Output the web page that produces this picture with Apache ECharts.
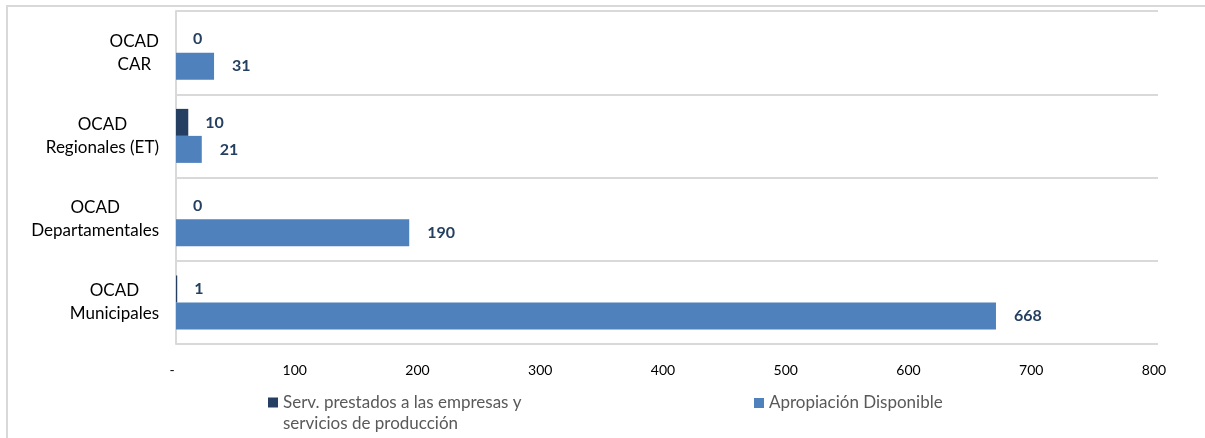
<!DOCTYPE html>
<html>
<head>
<meta charset="utf-8">
<script src="https://cdn.jsdelivr.net/npm/echarts@6/dist/echarts.min.js"></script>
<style>
  html, body { margin: 0; padding: 0; background: #ffffff; }
  #chart { width: 1205px; height: 438px; }
</style>
</head>
<body>
<div id="chart"></div>
<script>
// Categories (bottom to top, as on the category axis)
const categories = ['OCAD\nMunicipales', 'OCAD\nDepartamentales', 'OCAD\nRegionales (ET)', 'OCAD\nCAR'];
// Series names
const servName = 'Serv. prestados a las empresas y servicios de producción';
const apropName = 'Apropiación Disponible';
// Series values
const servValues = [1, 0, 10, 0];
const apropValues = [668, 190, 21, 31];
// Value axis ticks
const xMin = 0;
const xMax = 800;
const xInterval = 100;

const FONT = 'Lato, "Noto Sans", sans-serif';
const chart = echarts.init(document.getElementById('chart'), null, { renderer: 'canvas' });

const option = {
  animation: false,
  backgroundColor: '#ffffff',
  graphic: [{
    type: 'rect',
    z: -10,
    silent: true,
    shape: { x: 7, y: 6, width: 1400, height: 600 },
    style: { fill: 'none', stroke: '#d9d9d9', lineWidth: 2 }
  }],
  grid: { left: 176, right: 47, top: 11, bottom: 94, containLabel: false },
  legend: [{
    data: [servName],
    left: 263,
    top: 366,
    icon: 'rect',
    itemWidth: 10,
    itemHeight: 10,
    itemGap: 5,
    formatter: function () { return '\nServ. prestados a las empresas y\nservicios de producción'; },
    textStyle: { color: '#595959', fontFamily: FONT, fontSize: 17, lineHeight: 21 }
  }, {
    data: [apropName],
    left: 749,
    top: 387.5,
    icon: 'rect',
    itemWidth: 10,
    itemHeight: 10,
    itemGap: 5,
    textStyle: { color: '#595959', fontFamily: FONT, fontSize: 17, lineHeight: 21 }
  }],
  xAxis: {
    type: 'value',
    min: xMin,
    max: xMax,
    interval: xInterval,
    axisLine: { show: false },
    axisTick: { show: false },
    splitLine: { show: false },
    axisLabel: {
      color: '#000000',
      fontFamily: FONT,
      fontSize: 14,
      margin: 19,
      padding: [0, 8, 0, 0],
      formatter: function (v) { return v === 0 ? '-' : String(v); }
    }
  },
  yAxis: {
    type: 'category',
    data: categories,
    axisLine: { show: true, lineStyle: { color: '#d9d9d9', width: 2 } },
    axisTick: { show: false },
    splitLine: { show: true, lineStyle: { color: '#d9d9d9', width: 2 } },
    axisLabel: {
      margin: 17,
      align: 'right',
      formatter: function (v) {
        return v.split('\n').map(function (s) { return '{a|' + s + '}'; }).join('\n');
      },
      rich: {
        a: { align: 'center', color: '#000000', fontFamily: FONT, fontSize: 17, lineHeight: 23 }
      }
    }
  },
  series: [{
    name: servName,
    type: 'bar',
    data: servValues,
    barWidth: 27,
    barGap: '0%',
    itemStyle: { color: '#253F63' },
    label: {
      show: true, position: 'right', distance: 17,
      color: '#243F60', fontFamily: FONT, fontWeight: 'bold', fontSize: 16
    }
  }, {
    name: apropName,
    type: 'bar',
    data: apropValues,
    barWidth: 27,
    barGap: '0%',
    itemStyle: { color: '#4F81BD' },
    label: {
      show: true, position: 'right', distance: 18,
      color: '#243F60', fontFamily: FONT, fontWeight: 'bold', fontSize: 16
    }
  }]
};
chart.setOption(option);
</script>
</body>
</html>
